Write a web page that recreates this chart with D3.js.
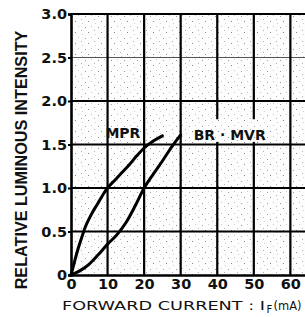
<!DOCTYPE html>
<html>
<head>
<meta charset="utf-8">
<script src="https://cdn.jsdelivr.net/npm/d3@7"></script>
<style>
  body { margin: 0; background: #fff; }
  text { font-family: "DejaVu Sans", sans-serif; }
</style>
</head>
<body>
<div class="chart"></div>
<script>
// data (forward current mA, relative intensity)
const mprCurrent = [0, 1, 2, 3, 4, 5, 6, 7, 8, 9, 10, 12, 14, 16, 18, 20, 22.5, 25];
const mprIntensity = [0, 0.16, 0.31, 0.44, 0.56, 0.65, 0.73, 0.8, 0.87, 0.94, 1.0, 1.09, 1.18, 1.27, 1.37, 1.46, 1.54, 1.6];
const mvrCurrent = [0, 2.5, 5, 7.5, 10, 12.5, 15, 17.5, 20, 22.5, 25, 27.5, 30];
const mvrIntensity = [0, 0.05, 0.125, 0.235, 0.355, 0.46, 0.6, 0.79, 1.0, 1.16, 1.31, 1.47, 1.61];
const xTicks = [0, 10, 20, 30, 40, 50, 60];
const yTicks = [0, 0.5, 1.0, 1.5, 2.0, 2.5, 3.0];

const margin = { top: 14, right: 0, bottom: 42, left: 71 };
const width = 305 - margin.left - margin.right;
const height = 317 - margin.top - margin.bottom;

const root = d3.select(".chart").append("svg")
    .attr("width", 305)
    .attr("height", 317);

// stippled paper texture
const defs = root.append("defs");
const pat = defs.append("pattern")
    .attr("id", "stipple")
    .attr("patternUnits", "userSpaceOnUse")
    .attr("width", 13).attr("height", 11);
pat.append("rect").attr("width", 13).attr("height", 11).attr("fill", "#fdfdfd");
[[1, 2, "#9a9a9a"], [7, 1, "#c8c8c8"], [4, 7, "#8a8a8a"], [10, 5, "#b0b0b0"], [11, 9, "#d0d0d0"]]
    .forEach(p => pat.append("rect").attr("x", p[0]).attr("y", p[1])
        .attr("width", 1).attr("height", 1).attr("fill", p[2]));

const svg = root.append("g")
    .attr("transform", `translate(${margin.left},${margin.top})`);

const xScale = d3.scaleLinear().domain([0, 64]).range([0, width]);
const yScale = d3.scaleLinear().domain([0, 3]).range([height, 0]);

svg.append("rect")
    .attr("width", width).attr("height", height)
    .attr("fill", "url(#stipple)");

// grid lines
svg.selectAll(".hgrid")
    .data(yTicks.filter(d => d > 0))
    .enter().append("line")
    .attr("class", "hgrid")
    .attr("x1", 0).attr("x2", width)
    .attr("y1", d => yScale(d)).attr("y2", d => yScale(d))
    .attr("stroke", d => d === 2.5 ? "#555" : "#000")
    .attr("stroke-width", d => d === 2.5 ? 1.2 : 2.2);

svg.selectAll(".vgrid")
    .data(xTicks.filter(d => d > 0))
    .enter().append("line")
    .attr("class", "vgrid")
    .attr("x1", d => xScale(d)).attr("x2", d => xScale(d))
    .attr("y1", 0).attr("y2", height)
    .attr("stroke", "#000")
    .attr("stroke-width", 2.2);

// label patch for BR . MVR (breaks the grid lines like the print)
svg.append("rect")
    .attr("x", xScale(33)).attr("y", yScale(1.79))
    .attr("width", xScale(54) - xScale(33))
    .attr("height", yScale(1.53) - yScale(1.79))
    .attr("fill", "url(#stipple)");

// axes
const yAxis = svg.append("g")
    .call(d3.axisLeft(yScale)
        .tickValues(yTicks)
        .tickSize(3)
        .tickPadding(1)
        .tickFormat(d => d === 0 ? "0" : d3.format(".1f")(d)));
const xAxis = svg.append("g")
    .attr("transform", "translate(0," + height + ")")
    .call(d3.axisBottom(xScale)
        .tickValues(xTicks)
        .tickSize(0)
        .tickPadding(4));
[yAxis, xAxis].forEach(a => {
    a.select(".domain").attr("stroke", "#000").attr("stroke-width", 2.6);
    a.selectAll(".tick line").attr("stroke", "#000").attr("stroke-width", 2);
    a.selectAll("text")
        .style("font-family", "DejaVu Sans")
        .style("font-size", "14.5px")
        .style("font-weight", "bold")
        .attr("fill", "#111");
});

// curves
const line = d3.line()
    .x(d => xScale(d.x))
    .y(d => yScale(d.y))
    .curve(d3.curveMonotoneX);

const mprData = mprCurrent.map((c, i) => ({ x: c, y: mprIntensity[i] }));
const mvrData = mvrCurrent.map((c, i) => ({ x: c, y: mvrIntensity[i] }));

[mprData, mvrData].forEach(data => {
    svg.append("path")
        .datum(data)
        .attr("d", line)
        .attr("fill", "none")
        .attr("stroke", "#000")
        .attr("stroke-width", 3)
        .attr("stroke-linecap", "round");
});

// curve labels
svg.append("text")
    .attr("x", xScale(14.2)).attr("y", yScale(1.575))
    .attr("text-anchor", "middle")
    .style("font-size", "14px").style("font-weight", "bold")
    .attr("fill", "#111")
    .text("MPR");
svg.append("text")
    .attr("x", xScale(43.4)).attr("y", yScale(1.55))
    .attr("text-anchor", "middle")
    .style("font-size", "14px").style("font-weight", "bold")
    .attr("fill", "#111")
    .text("BR · MVR");

// axis titles
root.append("text")
    .attr("transform", "translate(27,160) rotate(-90)")
    .attr("text-anchor", "middle")
    .style("font-family", "Liberation Sans")
    .style("font-size", "16.2px")
    .style("font-weight", "bold")
    .attr("fill", "#111")
    .text("RELATIVE LUMINOUS INTENSITY");

// the printed x title is a wide face, so each piece is stretched to its printed span
root.append("text")
    .attr("x", 62).attr("y", 310)
    .attr("textLength", 203).attr("lengthAdjust", "spacingAndGlyphs")
    .style("font-size", "13px")
    .attr("fill", "#111")
    .text("FORWARD CURRENT : I");
root.append("text")
    .attr("x", 266.5).attr("y", 313)
    .style("font-size", "10px")
    .attr("fill", "#111")
    .text("F");
root.append("text")
    .attr("x", 273.5).attr("y", 310)
    .attr("textLength", 28).attr("lengthAdjust", "spacingAndGlyphs")
    .style("font-size", "13px")
    .attr("fill", "#111")
    .text("(mA)");
</script>
</body>
</html>
